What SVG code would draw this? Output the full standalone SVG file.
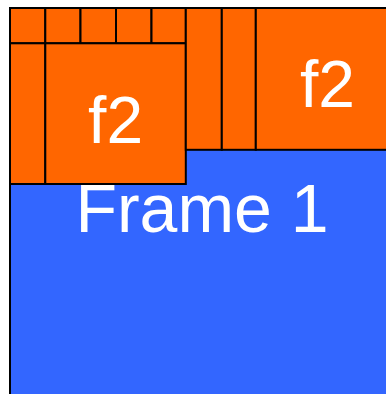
<svg xmlns="http://www.w3.org/2000/svg" width="386" height="394" viewBox="0 0 386 394">
<style>
.frame{fill:#3366FF;stroke:#000;stroke-width:2}
.cell{fill:#FF6600;stroke:#000;stroke-width:2}
.lbl{fill:#fff;font-family:"Liberation Sans",Arial,sans-serif;text-anchor:middle}
</style>
<rect width="386" height="394" fill="#fff"/>
<g id="frame1">
<rect class="frame" x="10" y="8" width="400" height="400"/>
<text class="lbl" x="202" y="232" font-size="68">Frame 1</text>
</g>
<g id="cell-t1"><rect class="cell" x="10" y="8" width="35.3" height="35.3"/></g>
<g id="cell-t2"><rect class="cell" x="45.3" y="8" width="35.2" height="35.3"/></g>
<g id="cell-t3"><rect class="cell" x="80.5" y="8" width="35.5" height="35.3"/></g>
<g id="cell-t4"><rect class="cell" x="116" y="8" width="35.5" height="35.3"/></g>
<g id="cell-t5"><rect class="cell" x="151.5" y="8" width="34.3" height="35.3"/></g>
<g id="cell-l1"><rect class="cell" x="10" y="43.3" width="35.3" height="140.7"/></g>
<g id="f2-left">
<rect class="cell" x="45.3" y="43.3" width="140.5" height="140.7"/>
<text class="lbl" x="115.6" y="143" font-size="66">f2</text>
</g>
<g id="cell-m1"><rect class="cell" x="185.8" y="8" width="36" height="141.8"/></g>
<g id="cell-m2"><rect class="cell" x="221.8" y="8" width="34" height="141.8"/></g>
<g id="f2-right">
<rect class="cell" x="255.8" y="8" width="142.2" height="141.8"/>
<text class="lbl" x="327.5" y="107.3" font-size="66">f2</text>
</g>
</svg>
